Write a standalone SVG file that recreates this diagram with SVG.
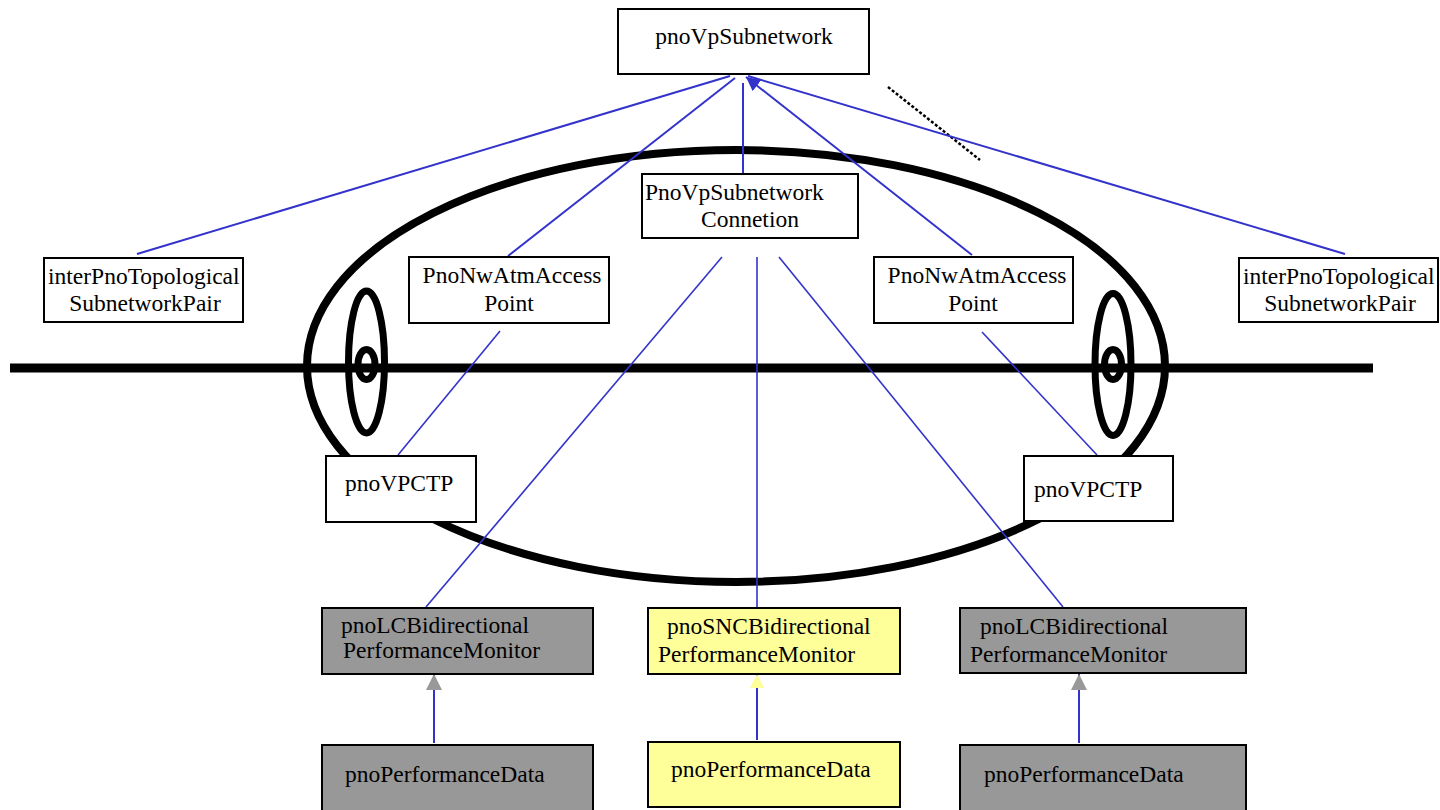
<svg xmlns="http://www.w3.org/2000/svg" width="1440" height="810" viewBox="0 0 1440 810">
  <style>
    .box { fill: #ffffff; stroke: #000000; stroke-width: 2; }
    .gray { fill: #989898; stroke: #000000; stroke-width: 2; }
    .yellow { fill: #ffff99; stroke: #000000; stroke-width: 2; }
    .lbl { font-family: "Liberation Serif", "Times New Roman", serif; font-size: 23.5px; fill: #000000; }
    .mid { text-anchor: middle; }
    .link { stroke: #3333cc; stroke-width: 2; fill: none; }
    .thin { stroke: #3333cc; stroke-width: 1.6; fill: none; }
    .ring { fill: none; stroke: #000000; }
  </style>
  <defs>
    <marker id="headBlue" viewBox="0 0 10 10" refX="10" refY="5" markerWidth="14" markerHeight="14" markerUnits="userSpaceOnUse" orient="auto">
      <path d="M0,0 L10,5 L0,10 z" fill="#3333cc"/>
    </marker>
    <marker id="headGray" viewBox="0 0 10 10" refX="10" refY="5" markerWidth="16" markerHeight="16" markerUnits="userSpaceOnUse" orient="auto">
      <path d="M0,0 L10,5 L0,10 z" fill="#999999"/>
    </marker>
    <marker id="headYellow" viewBox="0 0 10 10" refX="10" refY="5" markerWidth="14" markerHeight="14" markerUnits="userSpaceOnUse" orient="auto">
      <path d="M0,0 L10,5 L0,10 z" fill="#ffff99"/>
    </marker>
  </defs>

  <!-- background figure: bus line, enclosing ellipse and termination rings -->
  <g id="figure">
    <ellipse class="ring" cx="736" cy="366" rx="429" ry="216" stroke-width="8"/>
    <line x1="10" y1="368" x2="1373" y2="368" stroke="#000000" stroke-width="9"/>
    <ellipse class="ring" cx="366.5" cy="362" rx="18" ry="71" stroke-width="7"/>
    <ellipse class="ring" cx="366.5" cy="364.5" rx="8.5" ry="15" stroke-width="7"/>
    <ellipse class="ring" cx="1113" cy="364.5" rx="18" ry="71" stroke-width="7"/>
    <ellipse class="ring" cx="1113" cy="364.5" rx="8.5" ry="15" stroke-width="7"/>
    <line x1="888" y1="87" x2="980" y2="160" stroke="#000000" stroke-width="2.5" stroke-dasharray="3,2"/>
  </g>

  <!-- connectors -->
  <g id="connectors">
    <line class="link" x1="730" y1="76" x2="137" y2="254"/>
    <line class="link" x1="735" y1="78" x2="508" y2="256"/>
    <line class="link" x1="743" y1="83" x2="743" y2="175"/>
    <line class="link" x1="972" y1="255" x2="746" y2="77" marker-end="url(#headBlue)"/>
    <line class="link" x1="748" y1="76" x2="1345" y2="254"/>
    <line class="thin" x1="500" y1="331" x2="398" y2="455"/>
    <line class="thin" x1="982" y1="332" x2="1097" y2="455"/>
    <line class="thin" x1="722" y1="257" x2="426" y2="607"/>
    <line class="thin" x1="757" y1="257" x2="757" y2="607"/>
    <line class="thin" x1="779" y1="257" x2="1063" y2="607"/>
    <line class="link" x1="434" y1="743" x2="434" y2="674" marker-end="url(#headGray)"/>
    <line class="link" x1="757" y1="740" x2="757" y2="674" marker-end="url(#headYellow)"/>
    <line class="link" x1="1079" y1="743" x2="1079" y2="674" marker-end="url(#headGray)"/>
  </g>

  <g id="pnoVpSubnetwork">
    <rect class="box" x="618" y="9" width="251" height="65"/>
    <text class="lbl mid" x="744" y="44">pnoVpSubnetwork</text>
  </g>

  <g id="interPnoLeft">
    <rect class="box" x="44" y="258" width="199" height="64"/>
    <text class="lbl" x="48" y="284">interPnoTopological</text>
    <text class="lbl mid" x="145" y="311">SubnetworkPair</text>
  </g>

  <g id="accessPointLeft">
    <rect class="box" x="409" y="257" width="200" height="66"/>
    <text class="lbl mid" x="512" y="283">PnoNwAtmAccess</text>
    <text class="lbl mid" x="509" y="311">Point</text>
  </g>

  <g id="subnetworkConnection">
    <rect class="box" x="642" y="174" width="216" height="64"/>
    <text class="lbl" x="645" y="200">PnoVpSubnetwork</text>
    <text class="lbl" x="701" y="227">Connetion</text>
  </g>

  <g id="accessPointRight">
    <rect class="box" x="874" y="257" width="199" height="66"/>
    <text class="lbl mid" x="977" y="283">PnoNwAtmAccess</text>
    <text class="lbl mid" x="973" y="311">Point</text>
  </g>

  <g id="interPnoRight">
    <rect class="box" x="1239" y="258" width="199" height="64"/>
    <text class="lbl" x="1243" y="284">interPnoTopological</text>
    <text class="lbl mid" x="1340" y="311">SubnetworkPair</text>
  </g>

  <g id="vpctpLeft">
    <rect class="box" x="326" y="456" width="150" height="66"/>
    <text class="lbl" x="345" y="491">pnoVPCTP</text>
  </g>

  <g id="vpctpRight">
    <rect class="box" x="1024" y="456" width="149" height="65"/>
    <text class="lbl" x="1034" y="497">pnoVPCTP</text>
  </g>

  <g id="lcMonitorLeft">
    <rect class="gray" x="322" y="608" width="271" height="66"/>
    <text class="lbl" x="341" y="633">pnoLCBidirectional</text>
    <text class="lbl" x="343" y="658">PerformanceMonitor</text>
  </g>

  <g id="sncMonitor">
    <rect class="yellow" x="648" y="608" width="252" height="66"/>
    <text class="lbl" x="667" y="634">pnoSNCBidirectional</text>
    <text class="lbl" x="658" y="662">PerformanceMonitor</text>
  </g>

  <g id="lcMonitorRight">
    <rect class="gray" x="960" y="608" width="286" height="65"/>
    <text class="lbl" x="980" y="634">pnoLCBidirectional</text>
    <text class="lbl" x="970" y="662">PerformanceMonitor</text>
  </g>

  <g id="perfDataLeft">
    <rect class="gray" x="322" y="745" width="271" height="70"/>
    <text class="lbl" x="345" y="782">pnoPerformanceData</text>
  </g>

  <g id="perfDataMiddle">
    <rect class="yellow" x="648" y="742" width="252" height="65"/>
    <text class="lbl" x="671" y="777">pnoPerformanceData</text>
  </g>

  <g id="perfDataRight">
    <rect class="gray" x="960" y="745" width="286" height="70"/>
    <text class="lbl" x="984" y="782">pnoPerformanceData</text>
  </g>
</svg>
